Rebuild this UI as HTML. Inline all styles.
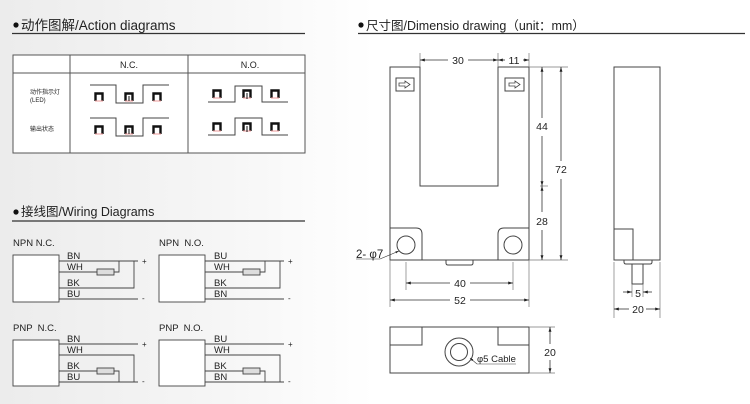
<!DOCTYPE html>
<html><head><meta charset="utf-8"><style>
html,body{margin:0;padding:0;}
body{width:750px;height:404px;overflow:hidden;background:linear-gradient(90deg,#ececec 0%,#f6f6f6 30%,#fff 50%,#fff 100%);}
svg{display:block;}
text{font-family:"Liberation Sans","Noto Sans CJK SC",sans-serif;fill:#222;white-space:pre;}
</style></head><body>
<svg width="750" height="404" viewBox="0 0 750 404" xmlns="http://www.w3.org/2000/svg">
<defs>
<marker id="ar" viewBox="0 0 10 10" refX="10" refY="5" markerWidth="6" markerHeight="6" orient="auto-start-reverse"><path d="M0,2 L10,5 L0,8 z" fill="#222"/></marker>
<g id="sq"><path d="M1.5,9 V1.5 H8.5 V9" fill="none" stroke="#111" stroke-width="2.4"/><line x1="1" y1="9" x2="9" y2="9" stroke="#e99" stroke-width="1"/></g>
</defs>
<circle cx="16" cy="25" r="2.6" fill="#111"/>
<text x="21" y="30" font-size="13.5">动作图解/Action diagrams</text>
<line x1="12" y1="33.5" x2="305" y2="33.5" stroke="#333" stroke-width="1.2"/>
<g stroke="#555" stroke-width="1" fill="none">
<rect x="13" y="55" width="292" height="98" fill="#fff"/>
<line x1="13" y1="73" x2="305" y2="73"/>
<line x1="70" y1="55" x2="70" y2="153"/>
<line x1="188" y1="55" x2="188" y2="153"/>
</g>
<text x="129" y="68" font-size="9" text-anchor="middle">N.C.</text>
<text x="250" y="68" font-size="9" text-anchor="middle">N.O.</text>
<text x="30" y="94" font-size="6">动作指示灯</text>
<text x="30" y="102" font-size="6">(LED)</text>
<text x="30" y="131" font-size="6">输出状态</text>
<g fill="none" stroke="#444" stroke-width="1">
<path d="M90,85 H116 V103 H143 V85 H169"/>
<path d="M90,118 H116 V136 H143 V118 H169"/>
<path d="M208,102 H235 V86 H262 V102 H288"/>
<path d="M208,135 H235 V118 H262 V135 H288"/>
</g>
<use href="#sq" x="94" y="92"/><use href="#sq" x="124" y="92"/><use href="#sq" x="152" y="92"/>
<use href="#sq" x="94" y="125"/><use href="#sq" x="124" y="125"/><use href="#sq" x="152" y="125"/>
<use href="#sq" x="212" y="89"/><use href="#sq" x="242" y="89"/><use href="#sq" x="270" y="89"/>
<use href="#sq" x="212" y="122"/><use href="#sq" x="242" y="122"/><use href="#sq" x="270" y="122"/>
<line x1="129" y1="96" x2="129" y2="101" stroke="#111"/><line x1="129" y1="129" x2="129" y2="134" stroke="#111"/>
<line x1="247" y1="93" x2="247" y2="99" stroke="#111"/><line x1="247" y1="126" x2="247" y2="132" stroke="#111"/>

<circle cx="16" cy="212" r="2.6" fill="#111"/>
<text x="21" y="216" font-size="12.5">接线图/Wiring Diagrams</text>
<line x1="12" y1="221" x2="305" y2="221" stroke="#333" stroke-width="1.2"/>

<g font-size="9.5">
<text x="13" y="246">NPN N.C.</text>
<text x="159" y="246">NPN  N.O.</text>
<text x="13" y="331">PNP  N.C.</text>
<text x="159" y="331">PNP  N.O.</text>
</g>
<g id="npn" stroke="#444" stroke-width="0.9" fill="none">
<rect x="13" y="255" width="46" height="47" fill="#fff"/>
<line x1="59" y1="261" x2="138" y2="261"/>
<line x1="59" y1="272" x2="97" y2="272"/>
<rect x="97" y="269" width="17" height="6" fill="#ddd"/>
<path d="M114,272 H119 V261"/>
<path d="M59,288 H134 V261"/>
<line x1="59" y1="299" x2="138" y2="299"/>
</g>
<g font-size="9.5">
<text x="67" y="259">BN</text><text x="67" y="270">WH</text><text x="67" y="286">BK</text><text x="67" y="297">BU</text>
<text x="142" y="264" font-size="8">+</text><text x="142" y="301" font-size="8">-</text>
</g>
<use href="#npn" x="146" y="0"/>
<g font-size="9.5">
<text x="214" y="259">BU</text><text x="214" y="270">WH</text><text x="214" y="286">BK</text><text x="214" y="297">BN</text>
<text x="288" y="264" font-size="8">+</text><text x="288" y="301" font-size="8">-</text>
</g>
<g id="pnp" stroke="#444" stroke-width="0.9" fill="none">
<rect x="13" y="340" width="46" height="46" fill="#fff"/>
<line x1="59" y1="344" x2="138" y2="344"/>
<path d="M59,355 H134 V382"/>
<line x1="59" y1="371" x2="97" y2="371"/>
<rect x="97" y="368" width="17" height="6" fill="#ddd"/>
<path d="M114,371 H119 V382"/>
<line x1="59" y1="382" x2="138" y2="382"/>
</g>
<g font-size="9.5">
<text x="67" y="342">BN</text><text x="67" y="353">WH</text><text x="67" y="369">BK</text><text x="67" y="380">BU</text>
<text x="142" y="347" font-size="8">+</text><text x="142" y="384" font-size="8">-</text>
</g>
<use href="#pnp" x="146" y="0"/>
<g font-size="9.5">
<text x="214" y="342">BU</text><text x="214" y="353">WH</text><text x="214" y="369">BK</text><text x="214" y="380">BN</text>
<text x="288" y="347" font-size="8">+</text><text x="288" y="384" font-size="8">-</text>
</g>

<circle cx="361" cy="25" r="2.6" fill="#111"/>
<text x="366" y="30" font-size="12.5">尺寸图/Dimensio drawing（unit：mm）</text>
<line x1="358" y1="33.5" x2="745" y2="33.5" stroke="#333" stroke-width="1.2"/>

<g stroke="#444" stroke-width="1" fill="none">
<path d="M390,67 H420 V186 H498 V67 H529 V260 H390 Z" fill="#fff"/>
<rect x="396" y="78" width="18" height="13"/>
<rect x="505" y="78" width="19" height="13"/>
<path d="M399,83 H405 V81 L410,84.5 L405,88 V86 H399 Z" stroke-width="0.8"/>
<path d="M509,83 H515 V81 L520,84.5 L515,88 V86 H509 Z" stroke-width="0.8"/>
<path d="M390,228 H416 Q422,228 422,234 V260"/>
<path d="M529,228 H504 Q498,228 498,234 V260"/>
<circle cx="406" cy="245" r="9"/>
<circle cx="513" cy="245" r="9"/>
<path d="M446,260 V263 Q446,265 448,265 H471 Q473,265 473,263 V260"/>
<g stroke="#777" stroke-width="0.7">
<line x1="420" y1="53" x2="420" y2="67"/><line x1="498" y1="53" x2="498" y2="67"/><line x1="529" y1="53" x2="529" y2="67"/>
<line x1="529" y1="67" x2="568" y2="67"/><line x1="540" y1="186" x2="548" y2="186"/><line x1="529" y1="260" x2="568" y2="260"/>
<line x1="390" y1="260" x2="390" y2="307"/><line x1="529" y1="260" x2="529" y2="307"/>
<line x1="406" y1="262" x2="406" y2="290"/><line x1="513" y1="262" x2="513" y2="290"/>
</g>
</g>
<g stroke="#333" stroke-width="0.8" fill="none">
<line x1="420" y1="60" x2="448" y2="60" marker-start="url(#ar)"/><line x1="468" y1="60" x2="498" y2="60" marker-end="url(#ar)"/>
<line x1="498" y1="60" x2="505" y2="60" marker-start="url(#ar)"/><line x1="523" y1="60" x2="529" y2="60" marker-end="url(#ar)"/>
<line x1="542" y1="67" x2="542" y2="118" marker-start="url(#ar)"/><line x1="542" y1="136" x2="542" y2="186" marker-end="url(#ar)"/>
<line x1="542" y1="186" x2="542" y2="212" marker-start="url(#ar)"/><line x1="542" y1="230" x2="542" y2="260" marker-end="url(#ar)"/>
<line x1="561" y1="67" x2="561" y2="161" marker-start="url(#ar)"/><line x1="561" y1="179" x2="561" y2="260" marker-end="url(#ar)"/>
<line x1="406" y1="283" x2="450" y2="283" marker-start="url(#ar)"/><line x1="470" y1="283" x2="513" y2="283" marker-end="url(#ar)"/>
<line x1="390" y1="300" x2="450" y2="300" marker-start="url(#ar)"/><line x1="470" y1="300" x2="529" y2="300" marker-end="url(#ar)"/>
<line x1="356" y1="259" x2="380" y2="259" stroke-width="0.6"/><line x1="380" y1="259" x2="399" y2="251" marker-end="url(#ar)" stroke-width="0.6"/>
</g>
<g font-size="10.5" text-anchor="middle">
<text x="458" y="64">30</text><text x="514" y="64">11</text>
<text x="542" y="130">44</text><text x="561" y="173">72</text><text x="542" y="225">28</text>
<text x="460" y="287">40</text><text x="460" y="304">52</text>
</g>
<text x="356" y="258" font-size="11.5">2- φ7</text>

<g stroke="#444" stroke-width="1" fill="none">
<rect x="614" y="67" width="46" height="193" fill="#fff"/>
<path d="M614,229 H633 V260"/>
<path d="M624,260 V262 Q624,264 626,264 H650 Q652,264 652,262 V260"/>
<rect x="632" y="264" width="11" height="20"/>
<g stroke="#777" stroke-width="0.7">
<line x1="614" y1="262" x2="614" y2="318"/><line x1="660" y1="262" x2="660" y2="318"/>
<line x1="632" y1="284" x2="632" y2="297"/><line x1="643" y1="284" x2="643" y2="297"/>
</g>
</g>
<g stroke="#333" stroke-width="0.8">
<line x1="623" y1="292" x2="632" y2="292" marker-end="url(#ar)"/><line x1="652" y1="292" x2="643" y2="292" marker-end="url(#ar)"/>
<line x1="614" y1="309" x2="629" y2="309" marker-start="url(#ar)"/><line x1="646" y1="309" x2="660" y2="309" marker-end="url(#ar)"/>
</g>
<g font-size="10.5" text-anchor="middle"><text x="638" y="297">5</text><text x="638" y="313">20</text></g>

<g stroke="#444" stroke-width="1" fill="none">
<rect x="390" y="327" width="139" height="46" fill="#fff"/>
<path d="M390,345 H422 V327"/><path d="M529,345 H498 V327"/>
<circle cx="459" cy="352" r="14"/><circle cx="459" cy="352" r="8.5"/>
<g stroke="#777" stroke-width="0.7"><line x1="529" y1="327" x2="555" y2="327"/><line x1="529" y1="373" x2="555" y2="373"/></g>
<line x1="477" y1="364" x2="516" y2="364" stroke-width="0.6"/>
<line x1="477" y1="364" x2="470" y2="358" stroke-width="0.6" marker-end="url(#ar)"/>
</g>
<g stroke="#333" stroke-width="0.8">
<line x1="550" y1="327" x2="550" y2="344" marker-start="url(#ar)"/><line x1="550" y1="360" x2="550" y2="373" marker-end="url(#ar)"/>
</g>
<text x="550" y="356" font-size="10.5" text-anchor="middle">20</text>
<text x="477" y="362" font-size="9.5">φ5 Cable</text>
</svg>
</body></html>
